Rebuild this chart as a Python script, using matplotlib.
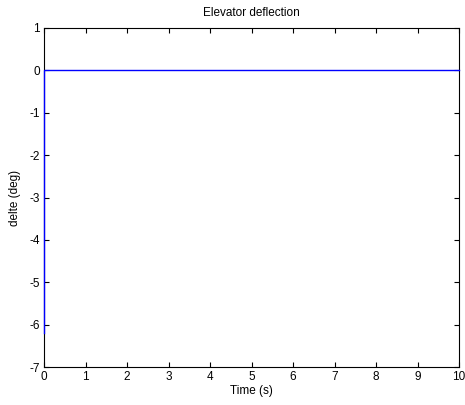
import matplotlib.pyplot as plt

# Data
time_s = [0, 0, 10]
delta_deg = [-6.2, 0, 0]
x_ticks = [0, 1, 2, 3, 4, 5, 6, 7, 8, 9, 10]
y_ticks = [1, 0, -1, -2, -3, -4, -5, -6, -7]

plt.rcParams["font.family"] = ["Liberation Sans", "DejaVu Sans"]
plt.rcParams["axes.unicode_minus"] = False

fig = plt.figure(figsize=(4.65, 4.05), dpi=100)
ax = fig.add_axes([44 / 465, 1 - 367 / 405, 415 / 465, 339 / 405])

ax.plot(time_s, delta_deg, color="#0000ff", linewidth=1.0, clip_on=False,
        zorder=3)

ax.set_xlim(0, 10)
ax.set_ylim(-7, 1)
ax.set_xticks(x_ticks)
ax.set_yticks(y_ticks)
ax.tick_params(direction="in", top=True, right=True, length=3.5, width=0.8,
               labelsize=8.5, pad=3)
for s in ax.spines.values():
    s.set_linewidth(0.8)

ax.set_title("Elevator deflection", fontsize=8.5, pad=9)
ax.set_xlabel("Time (s)", fontsize=8.5, labelpad=1)
ax.set_ylabel("delte (deg)", fontsize=8.5, labelpad=6)

fig.savefig("out.png", dpi=100)
